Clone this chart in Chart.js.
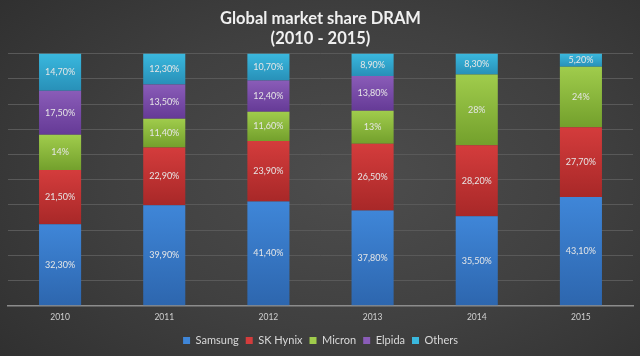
<!DOCTYPE html>
<html><head><meta charset="utf-8">
<script src="https://cdn.jsdelivr.net/npm/chart.js@4.4.0/dist/chart.umd.min.js"></script>
<style>
html,body{margin:0;padding:0;}
body{width:640px;height:356px;background:radial-gradient(ellipse 75% 85% at 55% 50%, #4d4d4d 0%, #404040 50%, #2e2e2e 100%);}
#wrap{width:640px;height:356px;position:relative;}
</style></head>
<body><div id="wrap"><canvas id="c" width="640" height="356"></canvas></div>
<script>
const years = ['2010','2011','2012','2013','2014','2015'];
const samsung = [32.3, 39.9, 41.4, 37.8, 35.5, 43.1];
const skHynix = [21.5, 22.9, 23.9, 26.5, 28.2, 27.7];
const micron  = [14, 11.4, 11.6, 13, 28, 24];
const elpida  = [17.5, 13.5, 12.4, 13.8, 0, 0];
const others  = [14.7, 12.3, 10.7, 8.9, 8.3, 5.2];
const seriesNames = ['Samsung','SK Hynix','Micron','Elpida','Others'];
const seriesData = [samsung, skHynix, micron, elpida, others];
const colorTop = ['#3f86d8','#d43c3c','#a0cc4c','#8a5cb8','#3ab8de'];
const colorBot = ['#2d66ae','#a82828','#73a02c','#653a96','#2890b8'];

function fmt(v){
  if (Number.isInteger(v)) return v + '%';
  return v.toFixed(2).replace('.', ',') + '%';
}

function gradFor(ctx, di){
  const chart = ctx.chart;
  const y = chart.scales && chart.scales.y;
  if (!chart.chartArea || !y || ctx.type !== 'data') return colorTop[di];
  const i = ctx.dataIndex;
  let base = 0;
  for (let k = 0; k < di; k++) base += seriesData[k][i];
  const top = base + seriesData[di][i];
  const y0 = y.getPixelForValue(top), y1 = y.getPixelForValue(base);
  if (!isFinite(y0) || !isFinite(y1) || y0 === y1) return colorTop[di];
  const g = chart.ctx.createLinearGradient(0, y0, 0, y1);
  g.addColorStop(0, colorTop[di]);
  g.addColorStop(1, colorBot[di]);
  return g;
}

const labelPlugin = {
  id: 'barLabels',
  afterDatasetsDraw(chart){
    const c = chart.ctx;
    c.save();
    c.font = '9px Lato, sans-serif';
    c.fillStyle = '#e6e6e6';
    c.textAlign = 'center';
    c.textBaseline = 'middle';
    chart.data.datasets.forEach((ds, di) => {
      const meta = chart.getDatasetMeta(di);
      meta.data.forEach((bar, i) => {
        const v = ds.data[i];
        if (!v) return;
        const yc = (bar.y + bar.base) / 2;
        c.fillText(fmt(v), bar.x, yc);
      });
    });
    c.restore();
  }
};

new Chart(document.getElementById('c'), {
  type: 'bar',
  data: {
    labels: years,
    datasets: seriesData.map((d, di) => ({
      label: seriesNames[di],
      data: d,
      backgroundColor: (ctx) => gradFor(ctx, di),
      borderWidth: 0,
      categoryPercentage: 1,
      barPercentage: 0.404
    }))
  },
  options: {
    responsive: false,
    animation: false,
    layout: { padding: { left: 8, right: 7, top: 0, bottom: 0 } },
    plugins: {
      title: {
        display: true,
        text: ['Global market share DRAM', '(2010 - 2015)'],
        color: '#f0f0f0',
        font: { family: 'Lato', size: 16.5, weight: 'bold', lineHeight: 1.2 },
        padding: { top: 9, bottom: 5 }
      },
      legend: {
        position: 'bottom',
        labels: {
          color: '#d9d9d9',
          font: { family: 'Lato', size: 11 },
          boxWidth: 7, boxHeight: 7,
          padding: 7,
          generateLabels(chart){
            return seriesNames.map((n, i) => ({
              text: n, fillStyle: colorTop[i], strokeStyle: colorTop[i],
              lineWidth: 0, datasetIndex: i, fontColor: '#d9d9d9'
            }));
          }
        }
      },
      tooltip: { enabled: false }
    },
    scales: {
      x: {
        stacked: true,
        grid: { display: false, drawTicks: false },
        border: { color: '#8c8c8c', width: 1.5 },
        ticks: { color: '#d0d0d0', font: { family: 'Lato', size: 8.5 }, padding: 6 }
      },
      y: {
        stacked: true,
        min: 0, max: 100,
        ticks: { display: false, stepSize: 10 },
        grid: { color: '#595959', lineWidth: 1, drawTicks: false },
        border: { display: false }
      }
    }
  },
  plugins: [labelPlugin]
});
</script></body></html>
